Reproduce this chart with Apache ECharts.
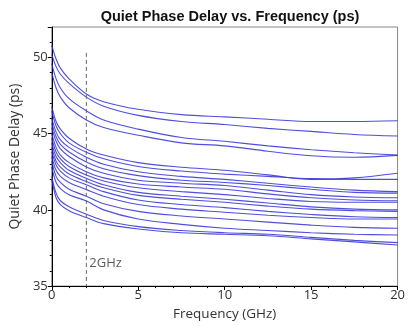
<!DOCTYPE html>
<html lang="en">
<head>
    <meta charset="UTF-8">
    <title>Quiet Phase Delay</title>
    <script src="https://cdn.jsdelivr.net/npm/echarts@6/dist/echarts.min.js"></script>
    <style>
        html, body { margin: 0; padding: 0; background: #fff; }
    </style>
</head>
<body>

<div id="main" style="width: 408px;height:326px;"></div>

<script type="text/javascript">
    // frequency points (GHz)
    var freq = [0, 0.25, 0.5, 1, 2, 3, 5, 7.5, 10, 12.5, 15, 17.5, 20];

    // delay curves (ps), one array per trace
    var d1 = [50.8, 49.9, 49.3, 48.6, 47.6, 47.1, 46.6, 46.25, 46.1, 45.95, 45.8, 45.8, 45.85];
    var d2 = [50.2, 49.4, 48.9, 48.3, 47.4, 46.8, 46.2, 45.8, 45.6, 45.35, 45.15, 44.95, 44.85];
    var d3 = [49.6, 48.6, 48.0, 47.3, 46.5, 45.9, 45.3, 44.75, 44.5, 44.2, 43.95, 43.75, 43.6];
    var d4 = [49.0, 48.0, 47.4, 46.7, 45.9, 45.4, 44.9, 44.4, 44.2, 43.85, 43.55, 43.45, 43.58];
    var d5 = [46.8, 45.8, 45.3, 44.7, 44.0, 43.6, 43.1, 42.8, 42.6, 42.3, 42.0, 42.1, 42.4];
    var d6 = [46.5, 45.5, 45.0, 44.4, 43.78, 43.35, 42.85, 42.55, 42.35, 42.2, 42.05, 42.0, 42.0];
    var d7 = [46.0, 45.1, 44.6, 44.1, 43.46, 43.0, 42.5, 42.2, 42.0, 41.75, 41.5, 41.3, 41.2];
    var d8 = [45.7, 44.8, 44.3, 43.8, 43.14, 42.7, 42.25, 41.95, 41.8, 41.6, 41.35, 41.15, 41.1];
    var d9 = [45.4, 44.5, 44.0, 43.5, 42.82, 42.4, 41.95, 41.75, 41.6, 41.3, 41.0, 40.85, 40.8];
    var d10 = [45.0, 44.1, 43.6, 43.1, 42.5, 42.1, 41.7, 41.5, 41.35, 41.05, 40.8, 40.65, 40.6];
    var d11 = [44.7, 43.8, 43.35, 42.85, 42.29, 41.9, 41.45, 41.2, 41.0, 40.75, 40.55, 40.5, 40.5];
    var d12 = [44.4, 43.5, 43.1, 42.6, 42.07, 41.65, 41.15, 40.9, 40.7, 40.45, 40.2, 40.05, 40.0];
    var d13 = [44.1, 43.2, 42.8, 42.35, 41.86, 41.45, 40.95, 40.7, 40.5, 40.25, 40.05, 39.95, 39.9];
    var d14 = [43.8, 42.95, 42.55, 42.1, 41.65, 41.2, 40.65, 40.35, 40.15, 39.9, 39.7, 39.55, 39.5];
    var d15 = [43.5, 42.6, 42.2, 41.8, 41.33, 40.9, 40.35, 40.05, 39.85, 39.65, 39.5, 39.4, 39.4];
    var d16 = [43.2, 42.2, 41.8, 41.35, 40.9, 40.4, 39.9, 39.6, 39.4, 39.2, 39.0, 38.85, 38.8];
    var d17 = [42.8, 41.8, 41.4, 41.0, 40.58, 40.0, 39.4, 39.05, 38.8, 38.65, 38.5, 38.4, 38.35];
    var d18 = [42.2, 41.1, 40.6, 40.2, 39.72, 39.3, 38.9, 38.65, 38.5, 38.4, 38.2, 38.0, 37.85];
    var d19 = [42.0, 40.8, 40.35, 39.95, 39.5, 39.1, 38.75, 38.5, 38.4, 38.3, 38.1, 37.9, 37.7];

    var curves = [d1, d2, d3, d4, d5, d6, d7, d8, d9, d10, d11, d12, d13, d14, d15, d16, d17, d18, d19];

    // 2GHz marker
    var markerFreq = 2;
    var markerTop = 50.3;
    var markerLabelY = 36.5;

    var font = 'Open Sans';

    var series = [];
    for (var i = 0; i < curves.length; i++) {
        var pts = [];
        for (var j = 0; j < freq.length; j++) {
            pts.push([freq[j], curves[i][j]]);
        }
        series.push({
            type: 'line',
            data: pts,
            smooth: 0.35,
            showSymbol: false,
            silent: true,
            lineStyle: { color: '#2f2fd8', width: 1.1, opacity: 0.85 }
        });
    }
    series.push({
        type: 'line',
        data: [[markerFreq, markerTop], [markerFreq, 35]],
        showSymbol: false,
        silent: true,
        lineStyle: { color: '#666', width: 1, type: [4, 3] }
    });
    series.push({
        type: 'scatter',
        data: [[markerFreq, markerLabelY]],
        symbolSize: 0,
        silent: true,
        label: {
            show: true,
            position: 'right',
            distance: 3,
            formatter: '2GHz',
            color: '#333',
            fontFamily: font,
            fontSize: 13
        }
    });

    var myChart = echarts.init(document.getElementById('main'));

    var option = {
        animation: false,
        title: {
            text: 'Quiet Phase Delay vs. Frequency (ps)',
            left: 225,
            textAlign: 'center',
            top: 4,
            textStyle: { fontFamily: 'Liberation Sans', fontSize: 14.5, fontWeight: 'bold', color: '#111' }
        },
        grid: {
            left: 51, right: 9, top: 27, bottom: 34,
            show: true, borderColor: '#888', borderWidth: 1
        },
        xAxis: {
            type: 'value',
            min: 0, max: 20, interval: 5,
            name: 'Frequency (GHz)',
            nameLocation: 'middle',
            nameGap: 17,
            nameTextStyle: { fontFamily: font, fontSize: 13.5, color: '#333' },
            axisLine: { lineStyle: { color: '#000' } },
            axisTick: { length: 4, lineStyle: { color: '#000' } },
            minorTick: { show: true, splitNumber: 5, length: 2, lineStyle: { color: '#000' } },
            splitLine: { show: false },
            axisLabel: { fontFamily: font, fontSize: 13, color: '#333', margin: 3 }
        },
        yAxis: {
            type: 'value',
            min: 35, max: 52, interval: 5,
            name: 'Quiet Phase Delay (ps)',
            nameLocation: 'middle',
            nameGap: 27,
            nameTextStyle: { fontFamily: font, fontSize: 14, color: '#333' },
            axisLine: { show: true, lineStyle: { color: '#000' } },
            axisTick: { show: true, length: 4, lineStyle: { color: '#000' } },
            minorTick: { show: true, splitNumber: 5, length: 2, lineStyle: { color: '#000' } },
            splitLine: { show: false },
            axisLabel: { fontFamily: font, fontSize: 13, color: '#333', margin: 4, showMaxLabel: false }
        },
        series: series
    };
    myChart.setOption(option);
</script>
</body>
</html>
